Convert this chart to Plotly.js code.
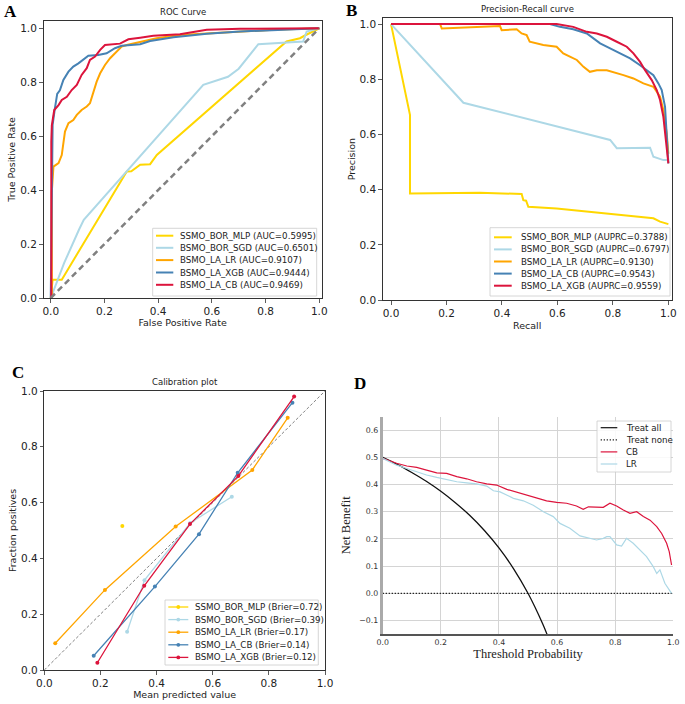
<!DOCTYPE html>
<html><head><meta charset="utf-8">
<script src="https://cdn.plot.ly/plotly-3.0.1.min.js"></script>
<style>html,body{margin:0;padding:0;background:#fff}#chart{width:685px;height:704px}</style>
</head><body><div id="chart"></div>
<script>
// ---------- Panel A: ROC ----------
const rocNames = ['SSMO_BOR_MLP (AUC=0.5995)','BSMO_BOR_SGD (AUC=0.6501)','BSMO_LA_LR (AUC=0.9107)','BSMO_LA_XGB (AUC=0.9444)','BSMO_LA_CB (AUC=0.9469)'];
const rocColors = ['#FFD700','#ADD8E6','#FFA500','#4682B4','#DC143C'];
const rocMLP_x = [0,0.007,0.041,0.283,0.300,0.333,0.370,0.395,0.878,0.928,0.950,1.0];
const rocMLP_y = [0,0.068,0.068,0.469,0.470,0.494,0.496,0.530,0.951,0.963,0.975,1.0];
const rocSGD_x = [0,0.012,0.05,0.105,0.123,0.568,0.66,0.70,0.773,0.94,0.953,1.0];
const rocSGD_y = [0,0.03,0.13,0.253,0.29,0.79,0.82,0.85,0.941,0.951,0.988,1.0];
const rocLR_x = [0,0.004,0.004,0.010,0.029,0.041,0.053,0.066,0.084,0.097,0.115,0.134,0.146,0.159,0.171,0.184,0.202,0.221,0.239,0.264,0.283,0.333,0.394,0.481,0.581,0.705,0.829,1.0];
const rocLR_y = [0,0.0,0.394,0.487,0.500,0.530,0.617,0.648,0.660,0.679,0.697,0.710,0.722,0.765,0.802,0.833,0.864,0.889,0.907,0.932,0.938,0.950,0.963,0.975,0.981,0.988,0.994,1.0];
const rocXGB_x = [0,0.002,0.004,0.007,0.015,0.024,0.034,0.047,0.066,0.084,0.103,0.121,0.140,0.177,0.208,0.239,0.264,0.333,0.370,0.457,0.581,0.705,0.854,1.0];
const rocXGB_y = [0,0.300,0.556,0.642,0.700,0.757,0.770,0.808,0.839,0.858,0.870,0.883,0.898,0.901,0.907,0.926,0.935,0.941,0.953,0.967,0.980,0.988,0.993,1.0];
const rocCB_x = [0,0.002,0.002,0.004,0.013,0.029,0.041,0.060,0.078,0.097,0.115,0.134,0.146,0.165,0.184,0.202,0.258,0.289,0.333,0.382,0.481,0.581,0.705,1.0];
const rocCB_y = [0,0.0,0.580,0.640,0.697,0.715,0.734,0.746,0.771,0.790,0.827,0.852,0.883,0.895,0.920,0.938,0.943,0.959,0.965,0.972,0.978,0.994,0.998,1.0];
const diag_x = [0,1];
const diag_y = [0,1];

// ---------- Panel B: Precision-Recall ----------
const prNames = ['SSMO_BOR_MLP (AUPRC=0.3788)','BSMO_BOR_SGD (AUPRC=0.6797)','BSMO_LA_LR (AUPRC=0.9130)','BSMO_LA_CB (AUPRC=0.9543)','BSMO_LA_XGB (AUPRC=0.9559)'];
const prColors = ['#FFD700','#ADD8E6','#FFA500','#4682B4','#DC143C'];
const prMLP_x = [0,0.0685,0.0685,0.32,0.471,0.477,0.487,0.495,0.597,0.778,0.946,0.97,1.0];
const prMLP_y = [1.0,0.67,0.386,0.389,0.384,0.362,0.360,0.338,0.332,0.314,0.296,0.284,0.275];
const prSGD_x = [0,0.261,0.79,0.814,0.934,0.946,0.982,1.0];
const prSGD_y = [1.0,0.715,0.58,0.55,0.552,0.519,0.507,0.507];
const prLR_x = [0,0.177,0.183,0.297,0.393,0.399,0.453,0.471,0.489,0.50,0.525,0.549,0.597,0.621,0.645,0.67,0.694,0.717,0.742,0.778,0.838,0.874,0.91,0.946,0.97,0.982,0.994,1.0];
const prLR_y = [1.0,1.0,0.984,0.99,0.993,0.978,0.981,0.966,0.960,0.936,0.93,0.924,0.918,0.894,0.882,0.87,0.845,0.827,0.833,0.833,0.815,0.803,0.785,0.773,0.737,0.688,0.604,0.53];
const prCB_x = [0,0.573,0.609,0.657,0.706,0.73,0.754,0.79,0.826,0.862,0.898,0.922,0.946,0.964,0.976,0.988,0.994,1.0];
const prCB_y = [1.0,1.0,0.99,0.981,0.966,0.948,0.93,0.912,0.894,0.876,0.851,0.833,0.815,0.785,0.761,0.70,0.604,0.495];
const prXGB_x = [0,0.597,0.657,0.706,0.742,0.778,0.814,0.85,0.874,0.898,0.916,0.94,0.958,0.97,0.982,0.992,1.0];
const prXGB_y = [1.0,1.0,0.99,0.972,0.966,0.954,0.936,0.918,0.894,0.863,0.833,0.797,0.761,0.725,0.664,0.58,0.495];

// ---------- Panel C: Calibration ----------
const calNames = ['SSMO_BOR_MLP (Brier=0.72)','BSMO_BOR_SGD (Brier=0.39)','BSMO_LA_LR (Brier=0.17)','BSMO_LA_CB (Brier=0.14)','BSMO_LA_XGB (Brier=0.12)'];
const calColors = ['#FFD700','#ADD8E6','#FFA500','#4682B4','#DC143C'];
const calMLP_x = [0.278];
const calMLP_y = [0.516];
const calSGD_x = [0.295,0.357,0.52,0.668];
const calSGD_y = [0.137,0.322,0.527,0.621];
const calLR_x = [0.039,0.216,0.468,0.741,0.867];
const calLR_y = [0.096,0.287,0.514,0.717,0.904];
const calCB_x = [0.176,0.394,0.551,0.689,0.884];
const calCB_y = [0.051,0.299,0.487,0.707,0.958];
const calXGB_x = [0.189,0.356,0.519,0.691,0.890];
const calXGB_y = [0.026,0.302,0.523,0.695,0.980];

// ---------- Panel D: Decision curve ----------
const dcaNames = ['Treat all','Treat none','CB','LR'];
const dcaAll_x = [0,0.05,0.1,0.15,0.2,0.25,0.3,0.35,0.4,0.45,0.5,0.55,0.567];
const dcaAll_y = [0.5,0.474,0.444,0.412,0.375,0.333,0.286,0.231,0.167,0.091,0.0,-0.111,-0.155];
const dcaNone_x = [0,1];
const dcaNone_y = [0,0];
const dcaCB_x = [0,0.048,0.083,0.117,0.151,0.186,0.22,0.255,0.289,0.323,0.358,0.392,0.427,0.461,0.495,0.53,0.564,0.599,0.633,0.667,0.69,0.708,0.736,0.759,0.782,0.805,0.828,0.851,0.874,0.897,0.92,0.943,0.96,0.977,0.986,0.994];
const dcaCB_y = [0.496,0.478,0.468,0.463,0.453,0.443,0.441,0.429,0.421,0.41,0.402,0.398,0.382,0.371,0.361,0.349,0.34,0.334,0.331,0.321,0.309,0.318,0.318,0.316,0.331,0.321,0.306,0.294,0.30,0.282,0.269,0.245,0.22,0.184,0.153,0.104];
const dcaLR_x = [0,0.048,0.083,0.117,0.151,0.186,0.22,0.255,0.289,0.323,0.358,0.381,0.404,0.427,0.45,0.484,0.518,0.553,0.587,0.61,0.644,0.679,0.713,0.736,0.759,0.771,0.782,0.805,0.822,0.839,0.862,0.885,0.908,0.931,0.943,0.954,0.971,0.994];
const dcaLR_y = [0.496,0.471,0.459,0.447,0.435,0.426,0.419,0.41,0.406,0.402,0.394,0.377,0.373,0.361,0.349,0.34,0.324,0.30,0.282,0.257,0.239,0.211,0.202,0.196,0.202,0.208,0.208,0.178,0.174,0.202,0.184,0.159,0.135,0.098,0.073,0.086,0.037,0.0];

const ticks01 = [0,0.2,0.4,0.6,0.8,1.0];
const ticksD = [-0.1,0,0.1,0.2,0.3,0.4,0.5,0.6];

const W = 685, H = 704;
const px = v => v / W;
const py = v => 1 - v / H;
const SANS = 'DejaVu Sans';
const SERIF = 'Liberation Serif';
const DOTS = '1.2px,1.8px';

const traces = [];
function line(x, y, color, width, ax, extra) {
  traces.push(Object.assign({x: x, y: y, type: 'scatter', mode: 'lines', xaxis: 'x' + ax, yaxis: 'y' + ax,
    line: {color: color, width: width}, showlegend: false, hoverinfo: 'skip'}, extra || {}));
}
// A
[[rocMLP_x, rocMLP_y],[rocSGD_x, rocSGD_y],[rocLR_x, rocLR_y],[rocXGB_x, rocXGB_y],[rocCB_x, rocCB_y]]
  .forEach((d, i) => line(d[0], d[1], rocColors[i], 2, '', {name: rocNames[i]}));
line(diag_x, diag_y, '#808080', 2.5, '', {line: {color: '#808080', width: 2.5, dash: '6px,4px'}});
// B
[[prMLP_x, prMLP_y],[prSGD_x, prSGD_y],[prLR_x, prLR_y],[prCB_x, prCB_y],[prXGB_x, prXGB_y]]
  .forEach((d, i) => line(d[0], d[1], prColors[i], 2, '2', {name: prNames[i]}));
// C
line(diag_x, diag_y, '#808080', 1, '3', {line: {color: '#808080', width: 1, dash: '3px,2px'}});
[[calMLP_x, calMLP_y],[calSGD_x, calSGD_y],[calLR_x, calLR_y],[calCB_x, calCB_y],[calXGB_x, calXGB_y]]
  .forEach((d, i) => line(d[0], d[1], calColors[i], 1.3, '3', {name: calNames[i], mode: 'lines+markers', marker: {size: 4, color: calColors[i]}}));
// D
line(dcaAll_x, dcaAll_y, '#111', 1.3, '4', {name: dcaNames[0], line: {color: '#111', width: 1.3, shape: 'spline'}});
line(dcaNone_x, dcaNone_y, '#111', 1.2, '4', {name: dcaNames[1], line: {color: '#111', width: 1.2, dash: DOTS}});
line(dcaCB_x, dcaCB_y, '#DC143C', 1.2, '4', {name: dcaNames[2]});
line(dcaLR_x, dcaLR_y, '#ADD8E6', 1.2, '4', {name: dcaNames[3]});

function frameAxis(domain, range, titleText, standoff, extra) {
  return Object.assign({domain: domain, range: range, showline: true, mirror: true, linecolor: '#333', linewidth: 1,
    ticks: 'outside', ticklen: 3.5, tickwidth: 0.8, tickcolor: '#333', tickvals: ticks01, tickformat: '.1f',
    tickfont: {family: SANS, size: 10.5, color: '#222'}, showgrid: false, zeroline: false,
    title: {text: titleText, font: {family: SANS, size: 9.5, color: '#222'}, standoff: standoff}}, extra || {});
}

const shapes = [];
const annotations = [];
function ann(x, y, text, size, opts) {
  annotations.push(Object.assign({xref: 'paper', yref: 'paper', x: px(x), y: py(y), text: text, showarrow: false,
    xanchor: 'center', yanchor: 'middle', font: {family: SANS, size: size, color: '#222'}}, opts || {}));
}
function legend(box, rows, lx0, lx1, tx, names, colors, width, opts) {
  shapes.push({type: 'rect', xref: 'paper', yref: 'paper', x0: px(box[0]), x1: px(box[2]), y0: py(box[1]), y1: py(box[3]),
    line: {color: '#cccccc', width: 0.8}, fillcolor: 'rgba(255,255,255,0.85)', layer: 'above'});
  names.forEach((n, i) => {
    const dash = (opts && opts.dash && opts.dash[i]) || 'solid';
    shapes.push({type: 'line', xref: 'paper', yref: 'paper', x0: px(lx0), x1: px(lx1), y0: py(rows[i]), y1: py(rows[i]),
      line: {color: colors[i], width: width, dash: dash}, layer: 'above'});
    if (opts && opts.marker) {
      const cx = (lx0 + lx1) / 2, r = 1.9;
      shapes.push({type: 'circle', xref: 'paper', yref: 'paper', x0: px(cx - r), x1: px(cx + r), y0: py(rows[i] + r), y1: py(rows[i] - r),
        line: {width: 0}, fillcolor: colors[i], layer: 'above'});
    }
    ann(tx, rows[i], n, 8.7, {xanchor: 'left'});
  });
}
legend([152.7, 228.3, 316.7, 296], [235.7, 247.8, 260.1, 272.5, 284.8], 156, 173.3, 178.3, rocNames, rocColors, 2);
legend([490, 227.7, 670, 296], [237.3, 249.4, 261.5, 273.6, 285.7], 494, 511.7, 519, prNames, prColors, 2);
legend([165, 600, 318.3, 665], [607, 619.6, 632.2, 644.8, 657.4], 168.3, 188.3, 192.7, calNames, calColors, 1.3, {marker: true});
legend([597, 421, 671, 472], [427.7, 439.8, 451.9, 464], 600.7, 617.3, 624, dcaNames, ['#111', '#111', '#DC143C', '#ADD8E6'], 1.2, {dash: ['solid', DOTS, 'solid', 'solid']});

// titles and panel letters
ann(182.6, 11.7, 'ROC Curve', 8.5);
ann(527.2, 9.3, 'Precision-Recall curve', 8.5);
ann(184.6, 381.7, 'Calibration plot', 8.5);
const letterFont = {family: SERIF, size: 17, color: '#000'};
ann(10.5, 11.5, '<b>A</b>', 17, {font: letterFont});
ann(351, 10.5, '<b>B</b>', 17, {font: letterFont});
ann(18, 372, '<b>C</b>', 17, {font: letterFont});
ann(360, 383, '<b>D</b>', 17, {font: letterFont});

const layout = {
  width: W, height: H, margin: {l: 0, r: 0, t: 0, b: 0}, paper_bgcolor: '#fff', plot_bgcolor: '#fff', showlegend: false,
  xaxis: frameAxis([px(43.5), px(321.7)], [-0.027, 1.009], 'False Positive Rate', 3, {anchor: 'y'}),
  yaxis: frameAxis([py(298), py(20.7)], [0, 1.028], 'True Positive Rate', 2, {anchor: 'x'}),
  xaxis2: frameAxis([px(382.7), px(671.7)], [-0.030, 1.012], 'Recall', 4, {anchor: 'y2'}),
  yaxis2: frameAxis([py(300), py(18.3)], [0, 1.021], 'Precision', 2, {anchor: 'x2'}),
  xaxis3: frameAxis([px(44.3), px(325)], [0, 1], 'Mean predicted value', 3, {anchor: 'y3'}),
  yaxis3: frameAxis([py(670), py(391)], [0, 1], 'Fraction positives', 2, {anchor: 'x3'}),
  xaxis4: {domain: [px(382.7), px(673.3)], range: [0, 1], anchor: 'y4', showline: true, linecolor: '#555', linewidth: 1.5,
    ticks: '', tickvals: ticks01, tickformat: '.1f', tickfont: {family: SANS, size: 7.8, color: '#333'},
    showgrid: true, gridcolor: '#d4d4d4', gridwidth: 1, zeroline: false,
    title: {text: 'Threshold Probability', font: {family: SERIF, size: 12.5, color: '#222'}, standoff: 2}},
  yaxis4: {domain: [py(634.1), py(416.5)], range: [-0.15, 0.65], anchor: 'x4', showline: true, linecolor: '#aaaaaa', linewidth: 3,
    ticks: '', tickvals: ticksD, tickformat: '.1f', tickfont: {family: SANS, size: 7.8, color: '#333'},
    showgrid: true, gridcolor: '#d4d4d4', gridwidth: 1, zeroline: false,
    title: {text: 'Net Benefit', font: {family: SERIF, size: 12.5, color: '#222'}, standoff: 6}},
  shapes: shapes, annotations: annotations
};
Plotly.newPlot('chart', traces, layout, {staticPlot: true, displayModeBar: false});
</script></body></html>
